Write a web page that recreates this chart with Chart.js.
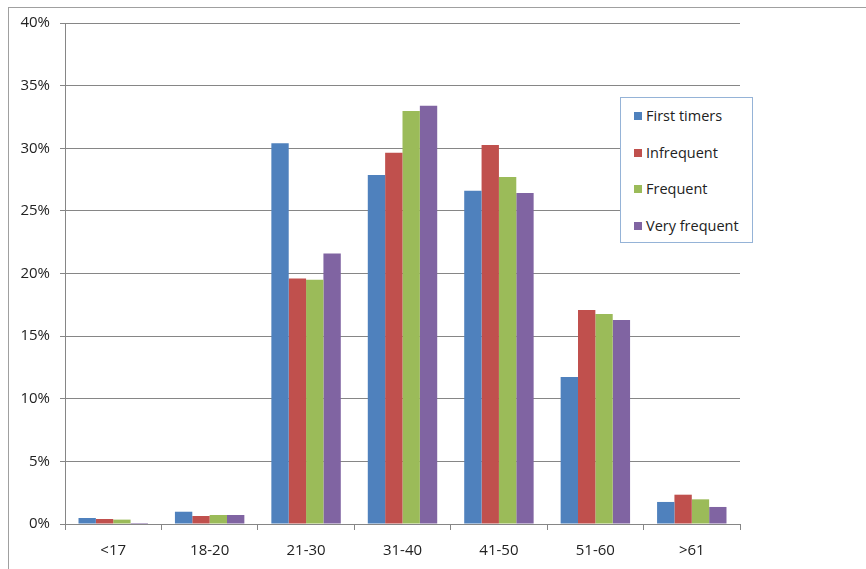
<!DOCTYPE html>
<html>
<head>
<meta charset="utf-8">
<script src="https://cdn.jsdelivr.net/npm/chart.js@4"></script>
<style>
body{margin:0;background:#fff;font-family:"Open Sans",sans-serif}
#wrap{position:relative;width:866px;height:569px}
#frame{position:absolute;left:8px;top:7px;right:0;bottom:0;border-top:1px solid #a0a0a0;border-left:1px solid #a0a0a0}
#legend{position:absolute;left:620px;top:97px;width:131px;height:144px;border:1px solid #95b3d7;background:#fff;box-sizing:content-box}
.item{position:absolute;left:13px;font-size:14.5px;color:#222;white-space:nowrap}
.item span{display:inline-block;width:8px;height:8px;margin-right:4px;vertical-align:1px}
</style>
</head>
<body>
<div id="wrap">
<div id="frame"></div>
<canvas id="chart" width="866" height="569"></canvas>
<div id="legend"></div>
</div>
<script>
let categories=["<17","18-20","21-30","31-40","41-50","51-60",">61"]
let firstTimers=[0.48,0.98,30.4,27.86,26.6,11.74,1.76]
let infrequent=[0.4,0.64,19.6,29.65,30.26,17.08,2.34]
let frequent=[0.35,0.72,19.5,32.97,27.7,16.77,1.97]
let veryFrequent=[0.08,0.72,21.6,33.4,26.43,16.29,1.36]
let seriesNames=["First timers","Infrequent","Frequent","Very frequent"]
let colors=["#4f81bd","#c0504d","#9bbb59","#8064a2"]

let allSeries=[firstTimers,infrequent,frequent,veryFrequent]

let chart=new Chart(document.getElementById("chart"),{
type:"bar",
data:{
labels:categories,
datasets:allSeries.map((s,i)=>({
label:seriesNames[i],
data:s,
backgroundColor:colors[i],
borderWidth:0,
categoryPercentage:0.72,
barPercentage:1
}))
},
options:{
responsive:false,
animation:false,
layout:{padding:{left:8,top:23,right:126,bottom:5}},
plugins:{legend:{display:false},tooltip:{enabled:false}},
scales:{
x:{
grid:{drawOnChartArea:false,drawTicks:true,tickLength:6,color:"#868686",offset:true},
border:{color:"#868686"},
ticks:{color:"#222",font:{family:"Open Sans",size:15},padding:12},
afterFit:s=>{s.height=40}
},
y:{
min:0,max:40,
grid:{color:"#868686",tickLength:5},
border:{color:"#868686"},
ticks:{stepSize:5,color:"#222",font:{family:"Open Sans",size:15},padding:10,callback:v=>v+"%"},
afterFit:s=>{s.width=57}
}
}
}
})

// legend
let legend=document.getElementById("legend")
chart.data.datasets.forEach((d,i)=>{
let div=document.createElement("div")
div.className="item"
div.style.top=(8+i*36.5)+"px"
div.innerHTML='<span style="background:'+d.backgroundColor+'"></span>'
div.appendChild(document.createTextNode(d.label))
legend.appendChild(div)
})
</script>
</body>
</html>
